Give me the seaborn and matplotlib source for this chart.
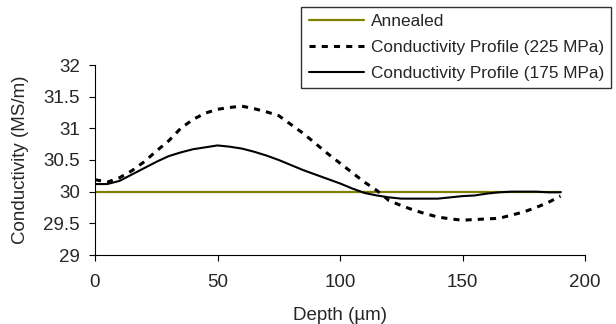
import numpy as np
import pandas as pd
import matplotlib
matplotlib.use("Agg")
import matplotlib.pyplot as plt
import seaborn as sns

depth = [0, 5, 10, 15, 20, 25, 30, 35, 40, 45, 50, 55, 60, 65, 70, 75, 80, 85, 90, 95,
         100, 105, 110, 115, 120, 125, 130, 135, 140, 145, 150, 155, 160, 165, 170, 175,
         180, 185, 190]
annealed = [30.0] * len(depth)
prof_225 = [30.19, 30.15, 30.22, 30.33, 30.47, 30.64, 30.8, 31.0, 31.14, 31.24, 31.3, 31.33,
            31.35, 31.31, 31.26, 31.2, 31.06, 30.92, 30.76, 30.6, 30.45, 30.3, 30.15, 30.02,
            29.86, 29.78, 29.71, 29.65, 29.6, 29.57, 29.55, 29.56, 29.57, 29.58, 29.63, 29.68,
            29.75, 29.83, 29.93]
prof_175 = [30.12, 30.12, 30.17, 30.27, 30.37, 30.47, 30.56, 30.62, 30.67, 30.7, 30.73, 30.71,
            30.68, 30.63, 30.57, 30.5, 30.42, 30.34, 30.27, 30.2, 30.13, 30.05, 29.98, 29.94,
            29.91, 29.89, 29.89, 29.89, 29.89, 29.91, 29.93, 29.94, 29.97, 29.99, 30.0, 30.0,
            30.0, 29.99, 29.99]
series_names = ["Annealed", "Conductivity Profile (225 MPa)", "Conductivity Profile (175 MPa)"]
x_ticks = [0, 50, 100, 150, 200]
y_ticks = [29, 29.5, 30, 30.5, 31, 31.5, 32]
y_tick_labels = ["29", "29.5", "30", "30.5", "31", "31.5", "32"]

df = pd.DataFrame({
    "Depth": depth * 3,
    "Conductivity": annealed + prof_225 + prof_175,
    "Series": sum([[n] * len(depth) for n in series_names], []),
})

sns.set_theme(style="white")
plt.rcParams["font.family"] = ["Liberation Sans", "DejaVu Sans"]

fig = plt.figure(figsize=(6.16, 3.24), dpi=100)
ax = fig.add_axes([95/616, 1 - 255/324, 490/616, 190/324])

palette = {series_names[0]: "#808000", series_names[1]: "black", series_names[2]: "black"}
dashes = {series_names[0]: "", series_names[1]: (2, 2), series_names[2]: ""}
sns.lineplot(data=df, x="Depth", y="Conductivity", hue="Series", style="Series",
             palette=palette, dashes=dashes, ax=ax, legend=False)
lws = [1.6, 2.2, 1.5]
for line, lw in zip(ax.get_lines(), lws):
    line.set_linewidth(lw)

ax.set_xlim(0, 200)
ax.set_ylim(29, 32)
ax.set_xticks(x_ticks)
ax.set_yticks(y_ticks)
ax.set_yticklabels(y_tick_labels)
ax.tick_params(axis="both", direction="out", length=4, width=0.8, color="black",
               labelsize=13.5, left=True, bottom=True)
ax.tick_params(axis="x", pad=10)
ax.tick_params(axis="y", pad=7)
for s in ["top", "right"]:
    ax.spines[s].set_visible(False)
for s in ["left", "bottom"]:
    ax.spines[s].set_color("black")
    ax.spines[s].set_linewidth(0.8)
ax.set_xlabel("Depth (µm)", fontsize=13.5, labelpad=11)
ax.set_ylabel("Conductivity (MS/m)", fontsize=13.5, labelpad=10)

handles = ax.get_lines()[:3]
leg = fig.legend(handles, series_names, loc="upper right",
                 bbox_to_anchor=(611/616, 1 - 7/324), fontsize=12.4,
                 frameon=True, fancybox=False, shadow=False, framealpha=1,
                 handlelength=3.2, handletextpad=0.4, labelspacing=0.62,
                 borderpad=0.42, borderaxespad=0)
leg.get_frame().set_edgecolor("#333333")
leg.get_frame().set_linewidth(1.0)

fig.savefig("out.png", dpi=100)
